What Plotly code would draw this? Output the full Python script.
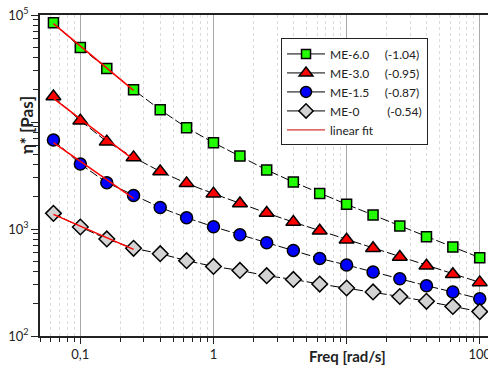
import numpy as np
import plotly.graph_objects as go

freq = [0.0628, 0.1, 0.158, 0.251, 0.398, 0.628, 1.0, 1.58, 2.51, 3.98, 6.28, 10.0, 15.8, 25.1, 39.8, 62.8, 100.0]

me60 = [84700, 49800, 31700, 20000, 13000, 8850, 6410, 4800, 3560, 2750, 2150, 1700, 1350, 1067, 847, 679, 540]
me30 = [17300, 10300, 6550, 4670, 3450, 2670, 2140, 1730, 1410, 1160, 964, 794, 660, 547, 454, 377, 317]
me15 = [6800, 4050, 2710, 2060, 1590, 1275, 1050, 885, 745, 631, 531, 461, 396, 343, 295, 258, 223]
me0 = [1400, 1044, 807, 660, 588, 506, 447, 410, 366, 338, 306, 281, 258, 234, 211, 189, 169]

names = ["ME-6.0", "ME-3.0", "ME-1.5", "ME-0"]
slopes_txt = ["(-1.04)", "(-0.95)", "(-0.87)", "(-0.54)"]
n_fit = 4

x_tickvals = [0.1, 1, 10, 100]
x_ticktext = ["0,1", "1", "", "100"]
y_tickvals = [100, 1000, 10000, 100000]
y_ticktext = ["10<sup>2</sup>", "10<sup>3</sup>", "", "10<sup>5</sup>"]

series = [me60, me30, me15, me0]
symbols = ["square", "triangle-up", "circle", "diamond"]
colors = ["#22FF00", "#FF0000", "#0000FF", "#D3D3D3"]
sizes = [10, 13, 12, 12]

FONT = "Lato, 'Open Sans', sans-serif"

fig = go.Figure()

for s, sym, col, sz, nm in zip(series, symbols, colors, sizes, names):
    fig.add_trace(go.Scatter(
        x=freq, y=s, mode="lines+markers", showlegend=False,
        line=dict(color="black", width=1, dash="9px,3px"),
        marker=dict(symbol=sym, color=col, size=sz, line=dict(color="black", width=1.5)),
        name=nm,
    ))

# linear fits (log-log) over the first points
for i, s in enumerate(series):
    lx = np.log10(freq[:n_fit])
    ly = np.log10(s[:n_fit])
    b, a = np.polyfit(lx, ly, 1)
    xf = np.array([freq[0], freq[n_fit - 1]])
    yf = 10 ** (a + b * np.log10(xf))
    fig.add_trace(go.Scatter(
        x=xf, y=yf, mode="lines", showlegend=False,
        line=dict(color="#FF0000", width=1.5),
    ))

# legend entries (solid line + marker)
pads = ["&nbsp;" * 5, "&nbsp;" * 5, "&nbsp;" * 5, "&nbsp;" * 9]
for nm, sl, pad, sym, col, sz in zip(names, slopes_txt, pads, symbols, colors, sizes):
    fig.add_trace(go.Scatter(
        x=[None], y=[None], mode="lines+markers",
        name=f"{nm}{pad}{sl}",
        line=dict(color="black", width=1),
        marker=dict(symbol=sym, color=col, size=sz - 1, line=dict(color="black", width=1.5)),
    ))
fig.add_trace(go.Scatter(
    x=[None], y=[None], mode="lines", name="linear fit",
    line=dict(color="#CC0000", width=1),
))

minor_x = [k * 10.0 ** e for e in range(-2, 3) for k in range(2, 10)]
minor_y = [k * 10.0 ** e for e in range(2, 5) for k in range(2, 10)]

fig.update_layout(
    width=488, height=365,
    margin=dict(l=40, r=0, t=15, b=29, autoexpand=False),
    paper_bgcolor="white", plot_bgcolor="white",
    font=dict(family=FONT, size=13, color="#222222"),
    showlegend=True,
    legend=dict(
        x=0.538, y=0.927, xanchor="left", yanchor="top",
        bgcolor="white", bordercolor="#222222", borderwidth=1,
        font=dict(family=FONT, size=12, color="#222222"),
        tracegroupgap=0, itemwidth=38,
    ),
    xaxis=dict(
        type="log", range=[-1.303, 2.062],
        tickvals=x_tickvals, ticktext=x_ticktext,
        ticks="outside", ticklen=6, tickcolor="#222222", tickwidth=1,
        showline=True, linecolor="#222222", linewidth=1.5, mirror=True,
        showgrid=True, gridcolor="#A8A8A8", gridwidth=1,
        zeroline=False, ticklabeloverflow="allow",
        tickfont=dict(family=FONT, size=13, color="#222222"),
        minor=dict(tickvals=minor_x, ticks="outside", ticklen=4, tickcolor="#222222",
                   showgrid=True, gridcolor="#DCDCDC", griddash="dot", gridwidth=1),
    ),
    yaxis=dict(
        type="log", range=[2, 5],
        tickvals=y_tickvals, ticktext=y_ticktext,
        ticks="outside", ticklen=7, tickcolor="#222222", tickwidth=1,
        showline=True, linecolor="#222222", linewidth=1.5, mirror=False,
        showgrid=False, zeroline=False,
        tickfont=dict(family=FONT, size=13, color="#222222"),
        minor=dict(tickvals=minor_y, ticks="outside", ticklen=5, tickcolor="#222222", showgrid=False),
    ),
    annotations=[
        dict(text="<b>η* [Pas]</b>", xref="paper", yref="paper", x=0, y=0.657,
             xshift=-14, textangle=-90, showarrow=False, xanchor="center", yanchor="middle",
             font=dict(family=FONT, size=17, color="#222222")),
        dict(text="<b>Freq [rad/s]</b>", xref="paper", yref="paper", x=(347 - 40) / 448, y=0,
             yshift=-20, showarrow=False, xanchor="center", yanchor="middle",
             font=dict(family=FONT, size=15, color="#222222")),
    ],
)

fig.write_html("out.html", config={"displayModeBar": False},
               post_script="document.body.style.margin='0';document.body.style.overflow='hidden';")
